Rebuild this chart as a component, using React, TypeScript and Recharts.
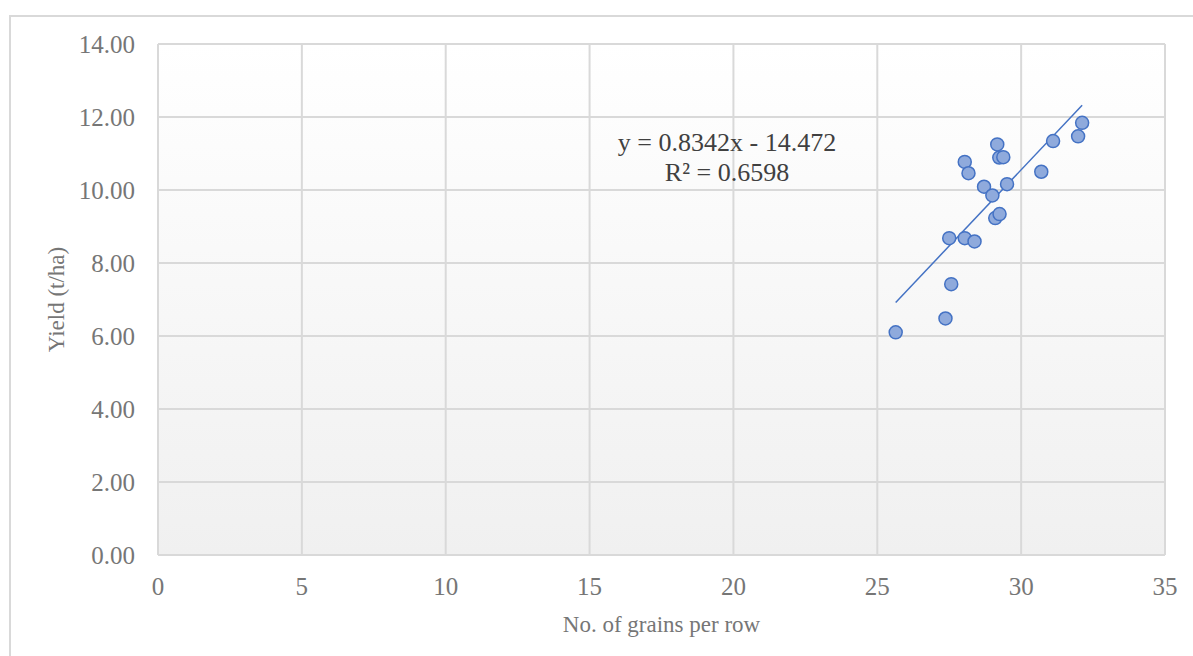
import {
  ScatterChart,
  Scatter,
  XAxis,
  YAxis,
  CartesianGrid,
  ReferenceLine,
} from 'recharts';

// grains per row vs. yield, one point per plot
const grainsPerRow = [
  25.64, 27.37, 27.57, 27.5, 28.04, 28.38, 28.04, 28.17, 28.71, 29.0,
  29.1, 29.25, 29.17, 29.24, 29.38, 29.51, 30.7, 31.11, 31.98, 32.12,
];
const yieldTPerHa = [
  6.1, 6.48, 7.42, 8.68, 8.68, 8.59, 10.77, 10.46, 10.09, 9.85,
  9.23, 9.34, 11.25, 10.89, 10.9, 10.16, 10.5, 11.34, 11.47, 11.84,
];

const xTicks = [0, 5, 10, 15, 20, 25, 30, 35];
const yTicks = [0, 2, 4, 6, 8, 10, 12, 14];

// linear trendline
const slope = 0.8342;
const intercept = -14.472;
const rSquared = 0.6598;

const FONT = '"Liberation Serif", "Times New Roman", serif';
const GRID = '#d9d9d9';
const TICK = '#767676';

const points = grainsPerRow.map((x, i) => ({ x, y: yieldTPerHa[i] }));
const xMin = Math.min(...grainsPerRow);
const xMax = Math.max(...grainsPerRow);
const trendSegment = [
  { x: xMin, y: slope * xMin + intercept },
  { x: xMax, y: slope * xMax + intercept },
];

const Dot = (props: any) => {
  const { cx, cy } = props;
  return <circle cx={cx} cy={cy} r={6.5} fill="#8faadc" stroke="#4472c4" strokeWidth={1.5} />;
};

export default function App() {
  const sign = intercept < 0 ? '-' : '+';
  return (
    <div style={{ position: 'absolute', left: 0, top: 0, width: 1193, height: 656, overflow: 'hidden', background: '#fff' }}>
      <div
        style={{
          position: 'absolute',
          left: 9,
          top: 15,
          width: 1220,
          height: 700,
          border: `2px solid ${GRID}`,
        }}
      />
      <ScatterChart
        width={1193}
        height={656}
        margin={{ top: 44, right: 28, bottom: 16, left: 0 }}
        style={{ position: 'absolute', left: 0, top: 0, fontFamily: FONT }}
      >
        <defs>
          <linearGradient id="plotBg" x1="0" y1="0" x2="0" y2="1">
            <stop offset="0%" stopColor="#ffffff" />
            <stop offset="100%" stopColor="#f0f0f0" />
          </linearGradient>
        </defs>
        <CartesianGrid fill="url(#plotBg)" stroke={GRID} strokeWidth={2} />
        <XAxis
          type="number"
          dataKey="x"
          domain={[0, 35]}
          ticks={xTicks}
          height={85}
          axisLine={false}
          tickLine={false}
          tickMargin={16}
          tick={{ fill: TICK, fontSize: 25, fontFamily: FONT }}
          label={{
            value: 'No. of grains per row',
            position: 'insideBottom',
            offset: 8,
            fill: TICK,
            fontSize: 23,
            fontFamily: FONT,
          }}
        />
        <YAxis
          type="number"
          dataKey="y"
          domain={[0, 14]}
          ticks={yTicks}
          width={158}
          axisLine={false}
          tickLine={false}
          tickMargin={17}
          tickFormatter={(v: number) => v.toFixed(2)}
          tick={{ fill: TICK, fontSize: 25, fontFamily: FONT }}
          label={{
            value: 'Yield (t/ha)',
            angle: -90,
            position: 'insideLeft',
            offset: 56,
            fill: TICK,
            fontSize: 23,
            fontFamily: FONT,
            style: { textAnchor: 'middle' },
          }}
        />
        <ReferenceLine segment={trendSegment} stroke="#4472c4" strokeWidth={1.5} />
        <Scatter data={points} shape={<Dot />} isAnimationActive={false} />
      </ScatterChart>
      <div
        style={{
          position: 'absolute',
          left: 577,
          top: 128,
          width: 300,
          textAlign: 'center',
          fontFamily: FONT,
          fontSize: 26,
          lineHeight: '30px',
          color: '#404040',
        }}
      >
        <div>{`y = ${slope}x ${sign} ${Math.abs(intercept)}`}</div>
        <div>{`R² = ${rSquared}`}</div>
      </div>
    </div>
  );
}
